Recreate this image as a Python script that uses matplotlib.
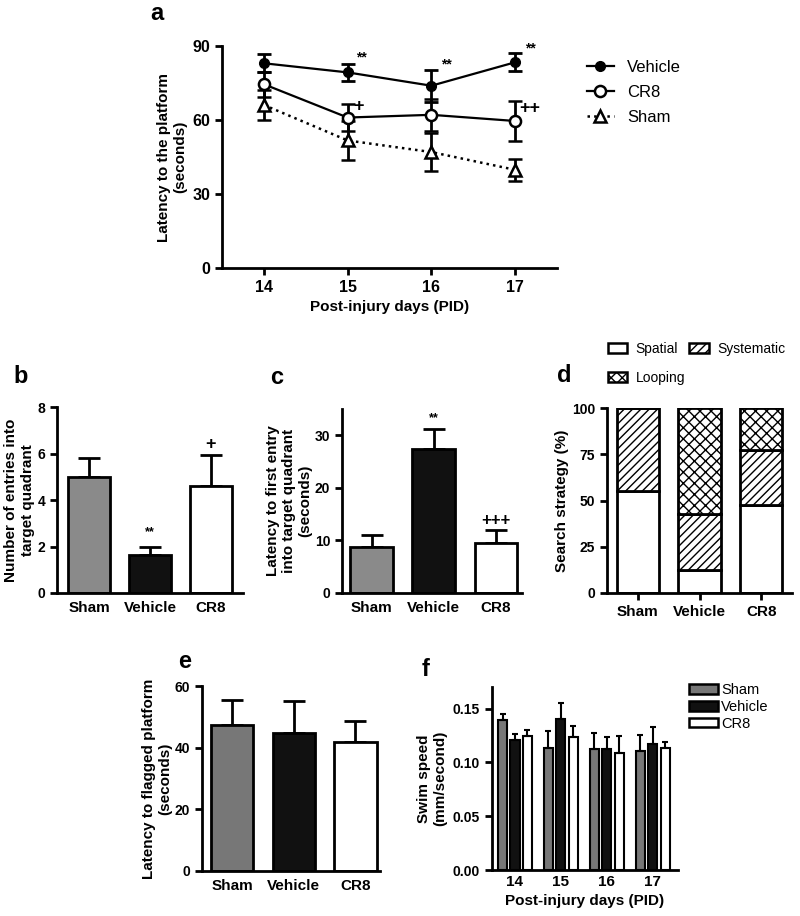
import numpy as np
import matplotlib
matplotlib.use("Agg")
from matplotlib import pyplot as plt
from matplotlib.patches import Patch
from matplotlib.lines import Line2D

plt.rcParams['font.family'] = ['Liberation Sans', 'DejaVu Sans']
plt.rcParams['font.weight'] = 'bold'
plt.rcParams['axes.labelweight'] = 'bold'
plt.rcParams['hatch.linewidth'] = 1.0

# panel a - latency to platform
days = [14, 15, 16, 17]
veh_a = [83.0, 79.3, 73.9, 83.4]
veh_a_err = [3.7, 3.6, 6.4, 3.6]
cr8_a = [74.5, 61.0, 62.1, 59.6]
cr8_a_err = [5.0, 5.4, 6.5, 8.0]
sham_a = [66.1, 51.7, 47.0, 39.8]
sham_a_err = [6.0, 7.8, 7.8, 4.5]

groups = ['Sham', 'Vehicle', 'CR8']

# panel b - entries into target quadrant
entries = [5.0, 1.62, 4.6]
entries_err = [0.82, 0.36, 1.33]

# panel c - latency to first entry
first_entry = [8.7, 27.3, 9.5]
first_entry_err = [2.3, 3.9, 2.4]

# panel d - search strategy (%)
spatial = [55.0, 12.5, 47.5]
systematic = [45.0, 30.0, 30.0]
looping = [0.0, 57.5, 22.5]

# panel e - latency to flagged platform
flagged = [47.5, 44.8, 41.8]
flagged_err = [8.0, 10.4, 6.9]

# panel f - swim speed
sham_f = [0.139, 0.113, 0.112, 0.111]
sham_f_err = [0.006, 0.016, 0.015, 0.014]
veh_f = [0.1205, 0.1405, 0.112, 0.117]
veh_f_err = [0.0055, 0.0145, 0.012, 0.016]
cr8_f = [0.1245, 0.1237, 0.109, 0.113]
cr8_f_err = [0.006, 0.0100, 0.0157, 0.006]

W, H = 800, 916
fig = plt.figure(figsize=(W / 100, H / 100), dpi=100)


def box(l, t, r, b):
    return [l / W, 1 - b / H, (r - l) / W, (b - t) / H]


def style(ax, fs=10):
    for s in ['top', 'right']:
        ax.spines[s].set_visible(False)
    for s in ['left', 'bottom']:
        ax.spines[s].set_linewidth(2)
    ax.tick_params(width=2, length=5, labelsize=fs, direction='out')


sham_gray = '#8a8a8a'
dark_gray = '#777777'
black = '#111111'

# ---- a
ax = fig.add_axes(box(222, 46, 557, 268))
style(ax, 11.5)
ax.errorbar(days, veh_a, yerr=veh_a_err, color='k', lw=1.6, marker='o', ms=7,
            mfc='k', mec='k', capsize=5, capthick=2, elinewidth=2, zorder=3)
ax.errorbar(days, cr8_a, yerr=cr8_a_err, color='k', lw=1.6, marker='o', ms=8,
            mfc='white', mec='k', mew=1.8, capsize=5, capthick=2, elinewidth=2, zorder=3)
ax.errorbar(days, sham_a, yerr=sham_a_err, color='k', lw=1.8, ls=':', marker='^', ms=8,
            mfc='white', mec='k', mew=1.8, capsize=5, capthick=2, elinewidth=2, zorder=3)
ax.set_xlim(13.5, 17.5)
ax.set_ylim(0, 90)
ax.set_yticks([0, 30, 60, 90])
ax.set_xticks(days)
ax.set_ylabel('Latency to the platform\n(seconds)', fontsize=11)
ax.set_xlabel('Post-injury days (PID)', fontsize=11)
ax.text(15.17, 85.5, '**', ha='center', va='center', fontsize=10)
ax.text(16.18, 82.5, '**', ha='center', va='center', fontsize=10)
ax.text(17.18, 89, '**', ha='center', va='center', fontsize=10)
ax.text(15.13, 65.5, '+', ha='center', va='center', fontsize=13)
ax.text(17.18, 64.5, '++', ha='center', va='center', fontsize=13)
handles = [
    Line2D([], [], color='k', lw=1.6, marker='o', ms=7, mfc='k'),
    Line2D([], [], color='k', lw=1.6, marker='o', ms=8, mfc='white', mew=1.8),
    Line2D([], [], color='k', lw=1.8, ls=':', marker='^', ms=8, mfc='white', mew=1.8),
]
fig.legend(handles, ['Vehicle', 'CR8', 'Sham'], loc='upper left',
           bbox_to_anchor=(572 / W, 1 - 45 / H), frameon=False,
           prop={'weight': 'normal', 'size': 12}, handlelength=1.6,
           labelspacing=0.6)
fig.text(150 / W, 1 - 14 / H, 'a', fontsize=17, va='center')

x = np.arange(3)
bw = 0.69


def bar_panel(ax, vals, errs, colors, capsize=8):
    ax.bar(x, vals, width=bw, color=colors, edgecolor='k', linewidth=2, zorder=2)
    ax.errorbar(x, vals, yerr=[np.zeros(3), errs], fmt='none', ecolor='k',
                elinewidth=2, capsize=capsize, capthick=2, zorder=1)
    ax.set_xticks(x)
    ax.set_xticklabels(groups, fontsize=11)
    ax.tick_params(axis='x', length=0, pad=6)


# ---- b
ax = fig.add_axes(box(57, 407, 243, 593))
style(ax)
bar_panel(ax, entries, entries_err, [sham_gray, black, 'white'])
ax.set_xlim(-0.525, 2.525)
ax.set_ylim(0, 8)
ax.set_yticks([0, 2, 4, 6, 8])
ax.set_ylabel('Number of entries into\ntarget quadrant', fontsize=11, labelpad=2)
ax.text(1, 2.6, '**', ha='center', va='center', fontsize=9)
ax.text(2, 6.4, '+', ha='center', va='center', fontsize=13)
fig.text(13 / W, 1 - 376 / H, 'b', fontsize=17, va='center')

# ---- c
ax = fig.add_axes(box(342, 409, 522, 593))
style(ax)
bar_panel(ax, first_entry, first_entry_err, [sham_gray, black, 'white'])
ax.set_xlim(-0.48, 2.42)
ax.set_ylim(0, 35)
ax.set_yticks([0, 10, 20, 30])
ax.set_ylabel('Latency to first entry\ninto target quadrant\n(seconds)', fontsize=11,
              labelpad=2)
ax.text(1, 33.2, '**', ha='center', va='center', fontsize=9)
ax.text(2, 13.8, '+++', ha='center', va='center', fontsize=12)
fig.text(270 / W, 1 - 377 / H, 'c', fontsize=17, va='center')

# ---- d
ax = fig.add_axes(box(607, 408, 792, 593))
style(ax)
ax.bar(x, spatial, width=bw, color='white', edgecolor='k', linewidth=2)
ax.bar(x, systematic, width=bw, bottom=spatial, color='white', edgecolor='k',
       linewidth=2, hatch='////')
bottom2 = np.array(spatial) + np.array(systematic)
ax.bar(x, looping, width=bw, bottom=bottom2, color='white', edgecolor='k',
       linewidth=2, hatch='xxx')
ax.set_xticks(x)
ax.set_xticklabels(groups, fontsize=11)
ax.tick_params(axis='x', pad=4)
ax.set_xlim(-0.5, 2.5)
ax.set_ylim(0, 100)
ax.set_yticks([0, 25, 50, 75, 100])
ax.set_ylabel('Search strategy (%)', fontsize=11, labelpad=2)
leg_d = [Patch(facecolor='white', edgecolor='k', lw=1.8),
         Patch(facecolor='white', edgecolor='k', lw=1.8, hatch='xxx'),
         Patch(facecolor='white', edgecolor='k', lw=1.8, hatch='////')]
fig.legend(leg_d, ['Spatial', 'Looping', 'Systematic'], ncol=2, loc='upper left',
           bbox_to_anchor=(598 / W, 1 - 332 / H), frameon=False,
           prop={'weight': 'normal', 'size': 10}, handlelength=1.4,
           handleheight=0.7, handletextpad=0.6, columnspacing=0.3,
           labelspacing=1.1, borderpad=0.2)
fig.text(557 / W, 1 - 375 / H, 'd', fontsize=17, va='center')

# ---- e
ax = fig.add_axes(box(202, 686, 380, 871))
style(ax)
bar_panel(ax, flagged, flagged_err, [dark_gray, black, 'white'])
ax.set_xlim(-0.49, 2.4)
ax.set_ylim(0, 60)
ax.set_yticks([0, 20, 40, 60])
ax.set_ylabel('Latency to flagged platform\n(seconds)', fontsize=11, labelpad=2)
fig.text(178 / W, 1 - 662 / H, 'e', fontsize=17, va='center')

# ---- f
ax = fig.add_axes(box(492, 687, 678, 870))
style(ax)
d = np.array(days)
fw = 0.2
off = 0.27
ax.bar(d - off, sham_f, width=fw, color=dark_gray, edgecolor='k', linewidth=1.5,
       yerr=[np.zeros(4), sham_f_err], capsize=2.5,
       error_kw=dict(elinewidth=1.5, capthick=1.5, zorder=1), label='Sham')
ax.bar(d, veh_f, width=fw, color=black, edgecolor='k', linewidth=1.5,
       yerr=[np.zeros(4), veh_f_err], capsize=2.5,
       error_kw=dict(elinewidth=1.5, capthick=1.5, zorder=1), label='Vehicle')
ax.bar(d + off, cr8_f, width=fw, color='white', edgecolor='k', linewidth=1.5,
       yerr=[np.zeros(4), cr8_f_err], capsize=2.5,
       error_kw=dict(elinewidth=1.5, capthick=1.5, zorder=1), label='CR8')
ax.set_xlim(13.5, 17.55)
ax.set_ylim(0, 0.17)
ax.set_yticks([0.0, 0.05, 0.10, 0.15])
ax.set_yticklabels(['0.00', '0.05', '0.10', '0.15'])
ax.set_xticks(days)
ax.tick_params(axis='x', length=0, labelsize=11)
ax.set_ylabel('Swim speed\n(mm/second)', fontsize=11)
ax.set_xlabel('Post-injury days (PID)', fontsize=11)
leg_f = [Patch(facecolor=dark_gray, edgecolor='k', lw=1.8),
         Patch(facecolor=black, edgecolor='k', lw=1.8),
         Patch(facecolor='white', edgecolor='k', lw=1.8)]
fig.legend(leg_f, ['Sham', 'Vehicle', 'CR8'], loc='upper left',
           bbox_to_anchor=(676 / W, 1 - 670 / H), frameon=False,
           prop={'weight': 'normal', 'size': 10.5}, handlelength=2.0,
           handleheight=0.6, handletextpad=0.2, labelspacing=0.2)
fig.text(422 / W, 1 - 670 / H, 'f', fontsize=17, va='center')

fig.savefig('out.png', dpi=100, facecolor='white')
